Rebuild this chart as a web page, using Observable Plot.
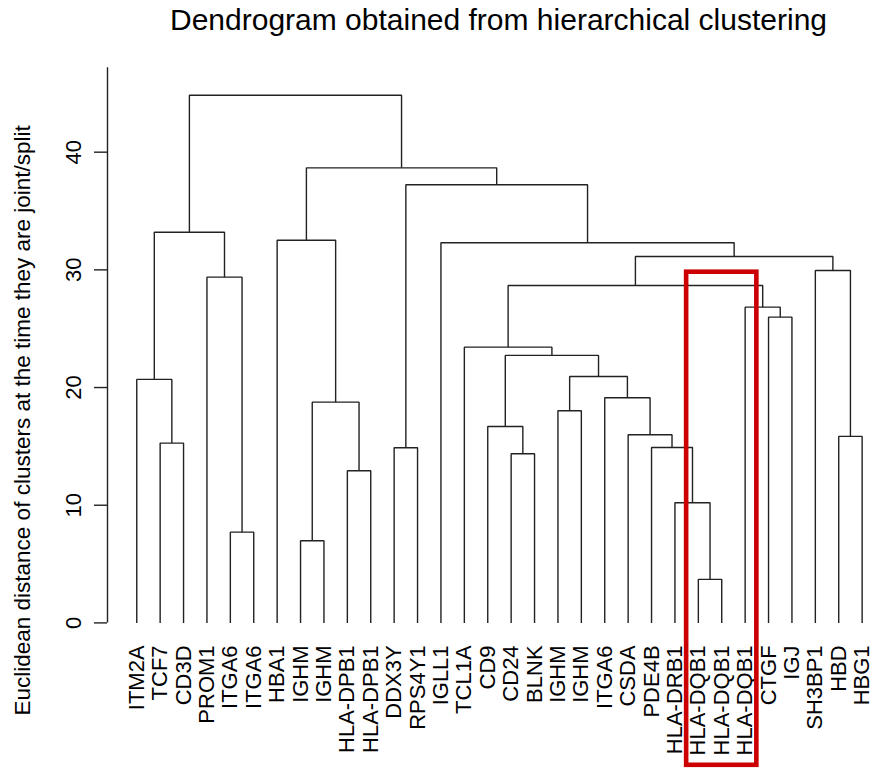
<!DOCTYPE html>
<html>
<head>
<meta charset="utf-8">
<script src="https://cdn.jsdelivr.net/npm/d3@7"></script>
<script src="https://cdn.jsdelivr.net/npm/@observablehq/plot@0.6"></script>
<style>
  html, body { margin: 0; padding: 0; background: #fff; }
</style>
</head>
<body>
<div id="chart"></div>
<script>
// Leaf labels in dendrogram order
const leaves = [
  "ITM2A", "TCF7", "CD3D", "PROM1", "ITGA6", "ITGA6", "HBA1", "IGHM", "IGHM",
  "HLA-DPB1", "HLA-DPB1", "DDX3Y", "RPS4Y1", "IGLL1", "TCL1A", "CD9", "CD24",
  "BLNK", "IGHM", "IGHM", "ITGA6", "CSDA", "PDE4B", "HLA-DRB1", "HLA-DQB1",
  "HLA-DQB1", "HLA-DQB1", "CTGF", "IGJ", "SH3BP1", "HBD", "HBG1"
];

// Merge table (hclust convention): negative = leaf number (1-based),
// positive = row of an earlier merge (1-based)
const mergeLeft  = [-25, -8, -5, -24, -10, -17, -12, -23, -2, -31, -22, -16, -19,  2, -21, -1, 13, 12, -15, -28, -27, 19, -4, -30, 22, -14, -7, 16,  7, 27, 28];
const mergeRight = [-26, -9, -6,   1, -11, -18, -13,   4, -3, -32,   8,   6, -20,  5,  11,  9, 15, 17,  18, -29,  20, 21,  3,  10, 24,  25, 14, 23, 26, 29, 30];
const mergeHeight = [
  3.70, 6.98, 7.71, 10.21, 12.93, 14.38, 14.88, 14.90, 15.28, 15.85,
  15.99, 16.69, 18.03, 18.76, 19.13, 20.69, 20.94, 22.73, 23.43, 25.98,
  26.83, 28.67, 29.38, 29.95, 31.14, 32.30, 32.52, 33.20, 37.23, 38.67, 44.84
];

const yTicks = [0, 10, 20, 30, 40];
const yMax = 47.17;

// Highlighted leaves (1-based) and the box's vertical extent
const highlightLeaves = [25, 26, 27];
const highlightTop = 29.8;
const highlightBottom = -12.1;

const titleText = "Dendrogram obtained from hierarchical clustering";
const yLabelText = "Euclidean distance of clusters at the time they are joint/split";

// Build the elbow paths: each merge is a 4-point polyline
const nodes = [];
const elbowPoints = [];
function nodeOf(ref) {
  return ref < 0 ? {x: -ref - 1, h: 0} : nodes[ref - 1];
}
mergeHeight.forEach((h, k) => {
  const a = nodeOf(mergeLeft[k]);
  const b = nodeOf(mergeRight[k]);
  nodes.push({x: (a.x + b.x) / 2, h});
  elbowPoints.push(
    {id: k, x: a.x, y: a.h},
    {id: k, x: a.x, y: h},
    {id: k, x: b.x, y: h},
    {id: k, x: b.x, y: b.h}
  );
});

const leafIndex = leaves.map((_, i) => i);
const box = {
  x1: Math.min(...highlightLeaves) - 1.5,
  x2: Math.max(...highlightLeaves) - 0.5,
  y1: highlightBottom,
  y2: highlightTop
};

const xMin = -1.25;
const ink = "#222";

const chart = Plot.plot({
  width: 881,
  height: 768,
  marginLeft: 107,
  marginRight: 10,
  marginTop: 67.3,
  marginBottom: 145.6,
  x: {domain: [xMin, 31.4], axis: null},
  y: {domain: [0, yMax], axis: null},
  style: {
    fontFamily: "'Liberation Sans', Arial, Helvetica, sans-serif",
    fontSize: "22px",
    color: "#000",
    background: "#fff"
  },
  marks: [
    // y axis line and ticks
    Plot.ruleX([xMin], {y1: 0, y2: yMax, stroke: ink, strokeWidth: 1.4}),
    Plot.axisY({ticks: yTicks, tickSize: 13, fill: "none", label: null, stroke: ink, strokeWidth: 1.4}),
    Plot.text(yTicks, {
      y: d => d, text: d => String(d), frameAnchor: "left", dx: -34,
      rotate: -90, textAnchor: "middle", lineAnchor: "middle", fontSize: 22, fill: "#000"
    }),
    // dendrogram branches
    Plot.line(elbowPoints, {x: "x", y: "y", z: "id", stroke: ink, strokeWidth: 1.4, strokeLinejoin: "miter", strokeLinecap: "butt"}),
    // leaf labels
    Plot.text(leafIndex, {
      x: i => i, text: i => leaves[i], frameAnchor: "bottom", dy: 22.5,
      rotate: -90, textAnchor: "end", lineAnchor: "middle", fontSize: 22, fill: "#000"
    }),
    // highlight box
    Plot.rect([box], {x1: "x1", x2: "x2", y1: "y1", y2: "y2", fill: "none", stroke: "#cc0000", strokeWidth: 4.6}),
    // title
    Plot.text([titleText], {
      text: d => d, frameAnchor: "top", dy: -47.6, dx: 9,
      lineAnchor: "middle", fontSize: 30, fill: "#000"
    }),
    // y axis title
    Plot.text([yLabelText], {
      text: d => d, frameAnchor: "left", dx: -85, dy: 75, rotate: -90,
      textAnchor: "middle", lineAnchor: "middle", fontSize: 22.5, fill: "#000"
    })
  ]
});

document.getElementById("chart").append(chart);
</script>
</body>
</html>
